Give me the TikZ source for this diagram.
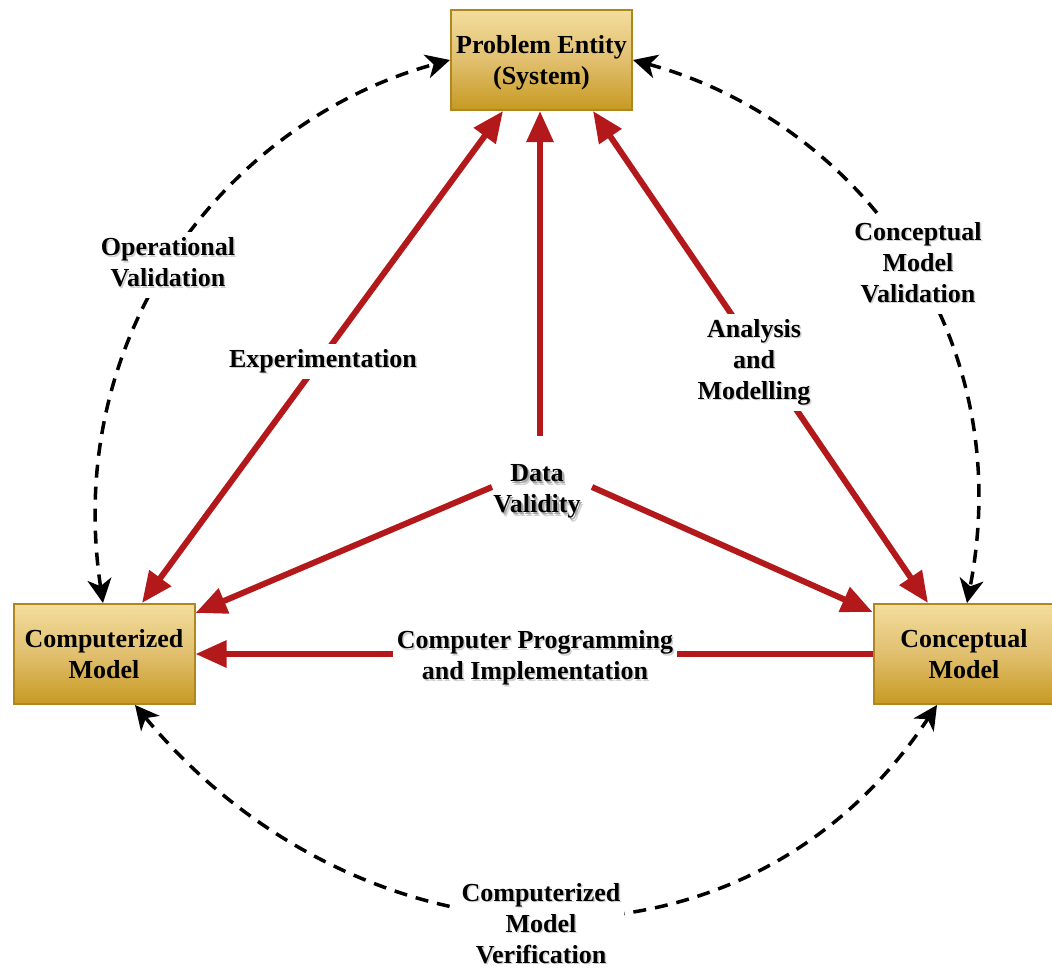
\documentclass[tikz,border=0pt]{standalone}
\usepackage{fontspec}
\setmainfont{Liberation Serif}
\usetikzlibrary{arrows.meta,backgrounds,calc}

\definecolor{boxtop}{HTML}{F3DD9E}
\definecolor{boxmid}{HTML}{E1BF6E}
\definecolor{boxbot}{HTML}{C69A22}
\definecolor{boxedge}{HTML}{B0871F}
\definecolor{flowred}{HTML}{B3191B}

% centred multi-line block
\newcommand\lines[1]{\begin{tabular}{@{}c@{}}#1\end{tabular}}
% one grey copy of a block, shifted right by #1 and down by #2
\newcommand\greycopy[4]{\smash{\rlap{\raisebox{-#2pt}{\hspace*{#1pt}\color{black!#3}\lines{#4}}}}}
% text with a faint drop shadow
\newcommand\shadowed[1]{\leavevmode\greycopy{1.5}{1.5}{18}{#1}\lines{#1}}
% text with a stronger, softer shadow
\newcommand\glowed[1]{\leavevmode\greycopy{3}{3.5}{18}{#1}\greycopy{1.8}{2}{35}{#1}\lines{#1}}

\begin{document}
\begin{tikzpicture}[x=1pt,y=-1pt,
  font=\fontsize{26}{31}\selectfont\bfseries,
  entity/.style={draw=boxedge, line width=2pt, minimum width=181pt, minimum height=100pt,
    top color=boxtop, bottom color=boxbot, middle color=boxmid, align=center, inner sep=0pt},
  lbl/.style={fill=white, align=center, inner xsep=4pt, inner ysep=2pt},
  flow/.style={draw=flowred, line width=6pt},
  redtip/.style={-{Triangle[length=31pt,width=26pt]}},
  redtips/.style={{Triangle[length=31pt,width=26pt]}-{Triangle[length=31pt,width=26pt]}},
  valid/.style={draw=black, line width=3.5pt, dash pattern=on 13pt off 9pt,
    {Stealth[length=24pt,width=24pt,inset=7pt]}-{Stealth[length=24pt,width=24pt,inset=7pt]}}]

\useasboundingbox (0,0) rectangle (1052,969);

% the three models
\node[entity] (prob) at (541.5,60) {Problem Entity\\\raisebox{0pt}[\height][0pt]{(System)}};
\node[entity] (comp) at (104,654) {Computerized\\Model};
\node[entity] (conc) at (964,654) {Conceptual\\Model};

% labels
\node[lbl] (expt)  at (323,361) {\shadowed{Experimentation}};
\node[lbl] (anmo)  at (754,362) {\shadowed{Analysis\\and\\Modelling}};
\node[lbl] (cpi)   at (535,658) {\shadowed{Computer Programming\\and Implementation}};
\node[lbl] (opv)   at (168,265) {\shadowed{Operational\\Validation}};
\node[lbl] (cmv)   at (918,265) {\shadowed{Conceptual\\Model\\Validation}};
\node[lbl] (cmver) at (541,926) {\shadowed{Computerized\\Model\\Verification}};
\node[align=center] (dv) at (537,491) {\glowed{Data\\Validity}};

\coordinate (dvN) at (540,436);
\coordinate (dvW) at (492,487);
\coordinate (dvE) at (592,487);

\begin{scope}[on background layer]
  % red flows
  \draw[flow,redtips] ($(comp.north)+(38,0)$) -- ($(prob.south)+(-38.5,0)$);
  \draw[flow,redtips] ($(prob.south)+(51.5,0)$) -- ($(conc.north)+(-36,0)$);
  \draw[flow,redtip] (dvN) -- ($(prob.south)+(-1.5,0)$);
  \draw[flow,redtip] (dvW) -- ($(comp.north east)+(0,10)$);
  \draw[flow,redtip] (dvE) -- ($(conc.north west)+(0,9)$);
  \draw[flow,redtip] (conc.west) -- (comp.east);

  % dashed validation / verification arcs
  \draw[valid] ($(comp.north)+(-1,0)$) .. controls (62,330) and (230,120) .. (prob.west);
  \draw[valid] (prob.east) .. controls (853,120) and (1020,330) .. ($(conc.north)+(3,0)$);
  \draw[valid] ($(comp.south)+(31,0)$) .. controls (357,973) and (743,997) .. ($(conc.south)+(-27,0)$);
\end{scope}
\end{tikzpicture}
\end{document}
